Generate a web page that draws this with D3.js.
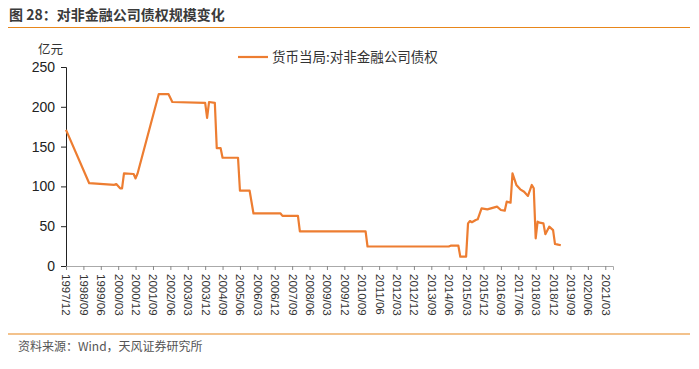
<!DOCTYPE html>
<html><head><meta charset="utf-8">
<script src="https://cdn.jsdelivr.net/npm/d3@7"></script>
<style>
html,body{margin:0;padding:0;background:#fff;}
svg{display:block;font-family:"Liberation Sans",Arial,"Noto Sans CJK SC",sans-serif;}
</style></head>
<body>
<svg id="chart" width="699" height="369"></svg>
<script>
const title = "图 28：对非金融公司债权规模变化";
const seriesName = "货币当局:对非金融公司债权";
const unitLabel = "亿元";
const source = "资料来源：Wind，天风证券研究所";

const dates = ["1997/12","1998/12","2000/01","2000/02","2000/04","2000/05","2000/06","2000/11","2000/12","2001/01",
 "2001/12","2002/05","2002/07","2003/12","2004/01","2004/02","2004/05","2004/06","2004/08","2004/09",
 "2005/05","2005/06","2005/11","2006/01","2007/03","2007/04","2007/12","2008/01","2010/11","2010/12",
 "2014/06","2014/07","2014/11","2014/12","2015/03","2015/04","2015/05","2015/06","2015/08","2015/09",
 "2015/11","2016/02","2016/07","2016/09","2016/11","2016/12","2017/02","2017/03","2017/05","2017/07",
 "2017/09","2017/11","2018/01","2018/02","2018/03","2018/04","2018/05","2018/07","2018/08","2018/10",
 "2018/12","2019/01","2019/02","2019/04"];
const values = [171,104,102,103,97.6,97.6,116.4,115.6,110,116,
 216,216,206,205,186,206,205,148,148,136,
 136,94.6,94.6,66,66,63,63,43.6,43.6,24.5,
 24.5,25.5,25.5,11.7,11.7,53.6,56.5,55,57.8,58.7,
 72.4,71.2,74.6,70.4,69.5,80.8,79.5,116.4,101.8,96.3,
 93.3,88,101.8,97.6,34.8,55.7,54.4,53.6,40,49.4,
 45,27.6,27.2,26];
const xTickLabels = ["1997/12","1998/09","1999/06","2000/03","2000/12","2001/09","2002/06","2003/03","2003/12","2004/09",
 "2005/06","2006/03","2006/12","2007/09","2008/06","2009/03","2009/12","2010/09","2011/06","2012/03",
 "2012/12","2013/09","2014/06","2015/03","2015/12","2016/09","2017/06","2018/03","2018/12","2019/09",
 "2020/06","2021/03"];
const yTicks = [0,50,100,150,200,250];

const toMonth = s => { const [y,m] = s.split("/").map(Number); return y*12 + (m-1); };
const m0 = toMonth("1997/12");
const data = dates.map((d,i)=>({m: toMonth(d)-m0, v: values[i]}));

const svg = d3.select("#chart");
const orange = "#ED7D31";

// title
svg.append("text").attr("x",9).attr("y",20).attr("font-size",14).attr("font-weight","bold")
  .attr("fill","#3a3a3a").attr("font-family","'Noto Sans CJK SC',sans-serif").text(title);
svg.append("line").attr("x1",8).attr("x2",690).attr("y1",27.5).attr("y2",27.5)
  .attr("stroke","#E8861A").attr("stroke-width",1.2);

const x = d3.scaleLinear().domain([0, toMonth("2021/07")-m0]).range([66,613]);
const y = d3.scaleLinear().domain([0,250]).range([266,67]);

// y axis
const yAxis = svg.append("g").attr("transform","translate(66,0)")
  .call(d3.axisLeft(y).tickValues(yTicks).tickSize(5).tickPadding(6));
yAxis.select(".domain").attr("stroke","#222");
yAxis.selectAll(".tick line").attr("stroke","#222");
yAxis.selectAll("text").attr("font-size",14).attr("fill","#222").attr("font-family","'Liberation Sans',Arial,sans-serif");

svg.append("text").attr("x",63).attr("y",54).attr("text-anchor","end").attr("font-size",12.5)
  .attr("fill","#333").attr("font-family","'Noto Sans CJK SC',sans-serif").text(unitLabel);

// x axis
const tickMonths = xTickLabels.map(s=>toMonth(s)-m0);
const xAxis = svg.append("g").attr("transform","translate(0,266)")
  .call(d3.axisBottom(x).tickValues(tickMonths).tickFormat((d,i)=>xTickLabels[i]).tickSizeOuter(0).tickSize(4));
xAxis.select(".domain").attr("stroke","#aaa");
xAxis.selectAll(".tick line").attr("stroke","#888");
xAxis.selectAll("text").attr("font-size",11.5).attr("fill","#333")
  .attr("font-family","'Liberation Sans',Arial,sans-serif")
  .attr("text-anchor","start").attr("dy","0.35em")
  .attr("transform","rotate(90)").attr("x",8).attr("y",0);

// line
const line = d3.line().x(d=>x(d.m)).y(d=>y(d.v));
svg.append("path").datum(data).attr("d",line).attr("fill","none")
  .attr("stroke",orange).attr("stroke-width",2.2).attr("stroke-linejoin","round");

// legend
svg.append("line").attr("x1",238).attr("x2",268).attr("y1",57).attr("y2",57)
  .attr("stroke",orange).attr("stroke-width",2.2);
svg.append("text").attr("x",272).attr("y",62).attr("font-size",13.5).attr("fill","#333")
  .attr("font-family","'Noto Sans CJK SC',sans-serif").text(seriesName);

// footer
svg.append("line").attr("x1",8).attr("x2",690).attr("y1",334).attr("y2",334)
  .attr("stroke","#E8861A").attr("stroke-width",1.2);
svg.append("text").attr("x",18).attr("y",351).attr("font-size",12).attr("fill","#555")
  .attr("font-family","'Noto Sans CJK SC',sans-serif").text(source);
</script>
</body></html>
